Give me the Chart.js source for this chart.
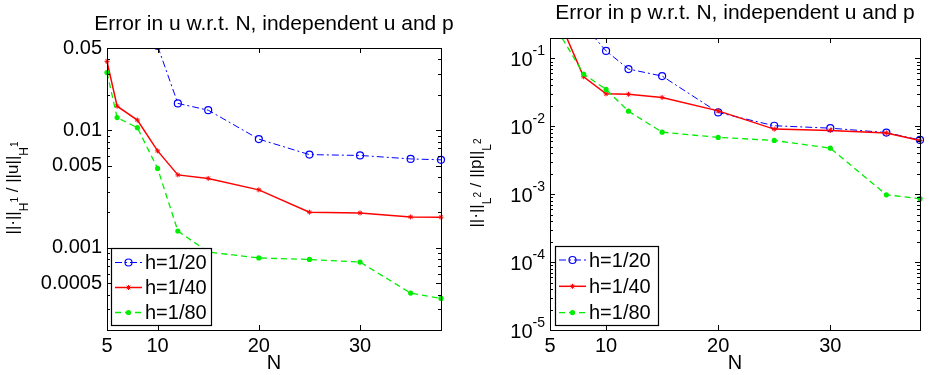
<!DOCTYPE html>
<html>
<head>
<meta charset="utf-8">
<script src="https://cdn.jsdelivr.net/npm/chart.js@4.4.1/dist/chart.umd.min.js"></script>
<style>
  body { margin: 0; background: #fff; }
  #wrap { position: relative; width: 931px; height: 375px; }
  #wrap canvas { position: absolute; top: 0; }
</style>
</head>
<body>
<div id="wrap">
  <canvas id="uplot" width="470" height="375" style="left:0"></canvas>
  <canvas id="pplot" width="461" height="375" style="left:470px"></canvas>
</div>
<script>
const nValues = [5, 6, 8, 10, 12, 15, 20, 25, 30, 35, 38];

// error in u (first blue points sit above the top of the axis)
const uErrH20 = [0.3, 0.15, 0.09, 0.052, 0.0169, 0.0148, 0.0084, 0.0062, 0.0061, 0.0057, 0.0056];
const uErrH40 = [0.0385, 0.016, 0.0122, 0.00667, 0.00417, 0.00389, 0.00311, 0.00201, 0.00198, 0.00183, 0.00182];
const uErrH80 = [0.0309, 0.0128, 0.0105, 0.00473, 0.00139, 0.00092, 0.00082, 0.000796, 0.000756, 0.000412, 0.000371];

// error in p
const pErrH20 = [0.9, 0.5, 0.31, 0.129, 0.0698, 0.055, 0.016, 0.0102, 0.0094, 0.0081, 0.0063];
const pErrH40 = [0.8, 0.31, 0.0537, 0.0301, 0.0297, 0.0266, 0.0169, 0.0091, 0.0087, 0.008, 0.0062];
const pErrH80 = [0.5, 0.21, 0.059, 0.035, 0.0167, 0.0082, 0.00687, 0.0062, 0.00477, 0.00098, 0.00086];

const seriesLabels = ['h=1/20', 'h=1/40', 'h=1/80'];
const xTicks = [5, 10, 20, 30];
const uTicks = [0.05, 0.01, 0.005, 0.001, 0.0005];
const pTicks = [1e-1, 1e-2, 1e-3, 1e-4, 1e-5];

const FONT = '"Liberation Sans", Arial, Helvetica, sans-serif';
Chart.defaults.font.family = FONT;
Chart.defaults.color = '#000';

const main = t => ({ text: t, size: 17, dy: 0 });
const sub = t => ({ text: t, size: 12, dy: 10 });
const sup = t => ({ text: t, size: 10, dy: 0 });

function makeDatasets(s20, s40, s80) {
  const pts = arr => arr.map((y, i) => ({ x: nValues[i], y: y }));
  const clip = { left: 6, right: 6, top: 0, bottom: 0 };
  return [
    {
      label: seriesLabels[0], data: pts(s20), order: 3, clip: clip,
      borderColor: '#0000ff', borderWidth: 1, borderDash: [7, 3, 2, 3],
      pointStyle: 'circle', pointRadius: 3.5, pointBorderWidth: 1.2,
      pointBorderColor: '#0000ff', pointBackgroundColor: 'rgba(0,0,0,0)'
    },
    {
      label: seriesLabels[1], data: pts(s40), order: 2, clip: clip,
      borderColor: '#ff0000', borderWidth: 1.5,
      pointStyle: 'star', pointRadius: 2.5, pointBorderWidth: 1,
      pointBorderColor: '#ff0000', pointBackgroundColor: '#ff0000'
    },
    {
      label: seriesLabels[2], data: pts(s80), order: 1, clip: clip,
      borderColor: '#00ee00', borderWidth: 1.3, borderDash: [6, 4],
      pointStyle: 'circle', pointRadius: 2.6, pointBorderWidth: 0,
      pointBorderColor: '#00ee00', pointBackgroundColor: '#00ee00'
    }
  ];
}

function drawRotatedLabel(ctx, parts, x, cy) {
  ctx.save();
  ctx.translate(x, cy);
  ctx.rotate(-Math.PI / 2);
  let total = 0;
  parts.forEach(p => {
    ctx.font = p.size + 'px ' + FONT;
    p.w = ctx.measureText(p.text).width;
    total += p.w;
  });
  let cx = -total / 2;
  ctx.fillStyle = '#000';
  ctx.textBaseline = 'alphabetic';
  parts.forEach(p => {
    ctx.font = p.size + 'px ' + FONT;
    ctx.fillText(p.text, cx, p.dy);
    cx += p.w;
  });
  ctx.restore();
}

// box, inward ticks, title, legend and y label drawn the matlab way
const matlabFrame = {
  id: 'matlabFrame',
  afterDraw(chart, args, opts) {
    const ctx = chart.ctx;
    const a = chart.chartArea;
    const xs = chart.scales.x, ys = chart.scales.y;
    ctx.save();
    ctx.strokeStyle = '#000';
    ctx.lineWidth = 1;
    ctx.setLineDash([]);
    ctx.beginPath();
    xs.ticks.forEach(t => {
      const px = Math.round(xs.getPixelForValue(t.value)) + 0.5;
      ctx.moveTo(px, a.bottom); ctx.lineTo(px, a.bottom - 5);
      ctx.moveTo(px, a.top); ctx.lineTo(px, a.top + 5);
    });
    ys.ticks.forEach(t => {
      const py = Math.round(ys.getPixelForValue(t.value)) + 0.5;
      ctx.moveTo(a.left, py); ctx.lineTo(a.left + 5, py);
      ctx.moveTo(a.right, py); ctx.lineTo(a.right - 5, py);
    });
    const e0 = Math.floor(Math.log10(ys.min)), e1 = Math.ceil(Math.log10(ys.max));
    for (let e = e0; e <= e1; e++) {
      for (let k = 2; k <= 9; k++) {
        const v = k * Math.pow(10, e);
        if (v < ys.min || v > ys.max) continue;
        if (ys.ticks.some(t => Math.abs(t.value - v) / v < 1e-6)) continue;
        const py = Math.round(ys.getPixelForValue(v)) + 0.5;
        ctx.moveTo(a.left, py); ctx.lineTo(a.left + 3, py);
        ctx.moveTo(a.right, py); ctx.lineTo(a.right - 3, py);
      }
    }
    ctx.stroke();
    ctx.strokeRect(Math.round(a.left) + 0.5, Math.round(a.top) + 0.5,
      Math.round(a.right) - Math.round(a.left), Math.round(a.bottom) - Math.round(a.top));

    // title, centred over the axes
    ctx.fillStyle = '#000';
    ctx.font = '21px ' + FONT;
    ctx.textAlign = 'center';
    ctx.textBaseline = 'middle';
    ctx.fillText(opts.title, (a.left + a.right) / 2, opts.titleY);

    // power-of-ten tick labels
    if (opts.powerTicks) {
      ys.ticks.forEach(t => {
        const py = ys.getPixelForValue(t.value);
        const ex = Math.round(Math.log10(t.value));
        const supText = '-' + Math.abs(ex);
        ctx.font = '14px ' + FONT;
        const sw = ctx.measureText(supText).width;
        const right = a.left - 5;
        ctx.textAlign = 'left';
        ctx.textBaseline = 'alphabetic';
        ctx.fillText(supText, right - sw, py - 3);
        ctx.font = '20px ' + FONT;
        ctx.textAlign = 'right';
        ctx.textBaseline = 'middle';
        ctx.fillText('10', right - sw, py + 2);
      });
    }

    // legend
    const lg = opts.legend;
    const bx = a.left + lg.dx, by = a.bottom - lg.dy - lg.h;
    ctx.fillStyle = '#fff';
    ctx.fillRect(bx, by, lg.w, lg.h);
    ctx.strokeStyle = '#000';
    ctx.lineWidth = 1.2;
    ctx.strokeRect(Math.round(bx) + 0.5, Math.round(by) + 0.5, lg.w, lg.h);
    chart.data.datasets.forEach((ds, i) => {
      const y = by + lg.first + i * lg.row;
      ctx.save();
      ctx.strokeStyle = ds.borderColor;
      ctx.lineWidth = ds.borderWidth;
      ctx.setLineDash(ds.borderDash || []);
      ctx.beginPath();
      ctx.moveTo(bx + 4, y); ctx.lineTo(bx + 31, y);
      ctx.stroke();
      ctx.setLineDash([]);
      ctx.fillStyle = ds.pointBackgroundColor;
      ctx.strokeStyle = ds.pointBorderColor;
      ctx.lineWidth = ds.pointBorderWidth;
      Chart.helpers.drawPoint(ctx, {
        pointStyle: ds.pointStyle, rotation: 0,
        radius: ds.pointRadius, borderWidth: ds.pointBorderWidth
      }, bx + 17.5, y);
      ctx.restore();
      ctx.fillStyle = '#000';
      ctx.font = '20px ' + FONT;
      ctx.textAlign = 'left';
      ctx.textBaseline = 'middle';
      ctx.fillText(ds.label, bx + 34, y + 1);
    });

    drawRotatedLabel(ctx, opts.yLabel, opts.labelX, opts.labelY);
    ctx.restore();
  }
};

function makeChart(id, cfg) {
  return new Chart(document.getElementById(id), {
    type: 'line',
    data: { datasets: cfg.datasets },
    plugins: [matlabFrame],
    options: {
      responsive: false,
      animation: false,
      devicePixelRatio: 1,
      layout: { padding: { left: 0, right: cfg.padRight, top: cfg.padTop, bottom: 0 } },
      plugins: {
        legend: { display: false },
        tooltip: { enabled: false },
        title: { display: false },
        matlabFrame: cfg.frame
      },
      scales: {
        x: {
          type: 'linear', min: 5, max: 38,
          grid: { display: false, drawTicks: false },
          border: { display: false },
          afterBuildTicks: s => { s.ticks = xTicks.map(v => ({ value: v })); },
          afterFit: s => { s.height = 45; },
          ticks: { font: { size: 20 }, padding: 4, maxRotation: 0, callback: v => String(v) },
          title: { display: true, text: 'N', font: { size: 20 }, padding: { top: 0, bottom: 0 } }
        },
        y: {
          type: 'logarithmic', min: cfg.yMin, max: cfg.yMax,
          grid: { display: false, drawTicks: false },
          border: { display: false },
          afterBuildTicks: s => { s.ticks = cfg.yTicks.map(v => ({ value: v })); },
          afterFit: s => { s.width = cfg.yWidth; },
          ticks: { display: cfg.showYTicks, font: { size: 20 }, padding: 5, callback: v => String(v) }
        }
      }
    }
  });
}

makeChart('uplot', {
  datasets: makeDatasets(uErrH20, uErrH40, uErrH80),
  padTop: 48, padRight: 29, yWidth: 107,
  yMin: 0.0002, yMax: 0.05, yTicks: uTicks, showYTicks: true,
  frame: {
    title: 'Error in u w.r.t. N, independent u and p', titleY: 24,
    powerTicks: false,
    legend: { dx: 4, dy: 5, w: 100, h: 77, first: 14.5, row: 25 },
    yLabel: [main('||\u00b7||'), sub('H'), sup('1'), main(' / ||u||'), sub('H'), sup('1')],
    labelX: 18, labelY: 188
  }
});

makeChart('pplot', {
  datasets: makeDatasets(pErrH20, pErrH40, pErrH80),
  padTop: 38, padRight: 11, yWidth: 80,
  yMin: 1e-5, yMax: 0.2, yTicks: pTicks, showYTicks: false,
  frame: {
    title: 'Error in p w.r.t. N, independent u and p', titleY: 13.5,
    powerTicks: true,
    legend: { dx: 5, dy: 5, w: 103, h: 79, first: 14, row: 26.3 },
    yLabel: [main('||\u00b7||'), sub('L'), sup('2'), main(' / ||p||'), sub('L'), sup('2')],
    labelX: 11, labelY: 183
  }
});
</script>
</body>
</html>
